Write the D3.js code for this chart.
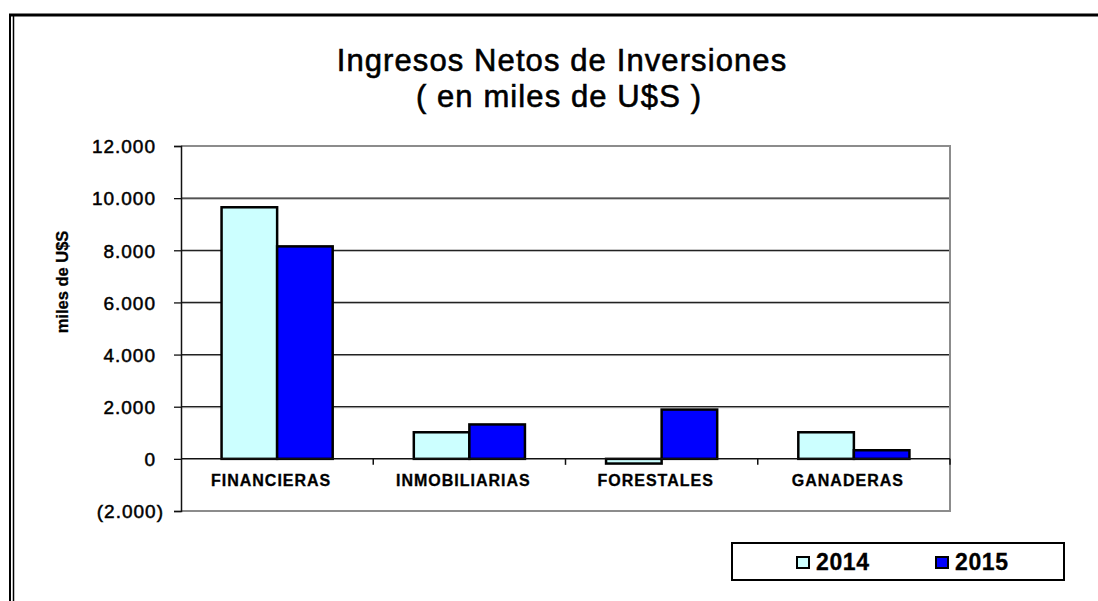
<!DOCTYPE html>
<html>
<head>
<meta charset="utf-8">
<script src="https://cdn.jsdelivr.net/npm/d3@7"></script>
<style>
  body { margin: 0; background: #fff; }
  svg { display: block; }
  text { font-family: Arial, 'Liberation Sans', sans-serif; fill: #000; }
</style>
</head>
<body>
<svg width="1098" height="601"></svg>
<script>
const categories = ['FINANCIERAS', 'INMOBILIARIAS', 'FORESTALES', 'GANADERAS'],
  series = ['2014', '2015'],
  values2014 = [9650, 1020, -180, 1020],
  values2015 = [8150, 1320, 1890, 330],
  yTicks = [-2000, 0, 2000, 4000, 6000, 8000, 10000, 12000],
  colors = ['#ccffff', '#0000ff']

const svg = d3.select('svg'),
  plot = { left: 181, right: 950, top: 146, bottom: 511 },
  locale = d3.formatLocale({ decimal: ',', thousands: '.', grouping: [3], currency: ['', ''] }),
  fmt = locale.format(',.0f'),
  y = d3
    .scaleLinear()
    .domain([-2000, 12000])
    .range([plot.bottom, plot.top]),
  x0 = d3
    .scaleBand()
    .domain(categories)
    .range([plot.left, plot.right]),
  x1 = d3
    .scaleBand()
    .domain(series)
    .range([0, x0.bandwidth()])
    .paddingOuter(0.73)

// outer frame
svg.append('line').attr('x1', 9).attr('x2', 1098).attr('y1', 15).attr('y2', 15)
  .attr('stroke', '#000').attr('stroke-width', 3)
svg.append('line').attr('x1', 10).attr('x2', 10).attr('y1', 14).attr('y2', 601)
  .attr('stroke', '#000').attr('stroke-width', 2)
svg.append('line').attr('x1', 13.5).attr('x2', 13.5).attr('y1', 16).attr('y2', 601)
  .attr('stroke', '#000').attr('stroke-width', 1.5)

// title
const title = svg.append('text')
  .attr('text-anchor', 'middle')
  .attr('font-size', 31)
  .attr('letter-spacing', 1.1)
  .attr('stroke', '#000')
  .attr('stroke-width', 0.6)
title.append('tspan').attr('x', 562).attr('y', 71).text('Ingresos Netos de Inversiones')
title.append('tspan').attr('x', 559).attr('y', 107).text('( en miles de U$S )')

// gridlines
svg.append('g')
  .selectAll('line')
  .data(yTicks.filter(d => d > 0 && d < 12000))
  .join('line')
  .attr('x1', plot.left).attr('x2', plot.right)
  .attr('y1', d => y(d) + 1).attr('y2', d => y(d) + 1)
  .attr('stroke', '#aaa').attr('stroke-width', 1)
svg.append('g')
  .selectAll('line')
  .data(yTicks.filter(d => d > 0 && d < 12000))
  .join('line')
  .attr('x1', plot.left).attr('x2', plot.right)
  .attr('y1', d => y(d)).attr('y2', d => y(d))
  .attr('stroke', '#222').attr('stroke-width', 1.2)

// plot border (gray top/right/bottom)
svg.append('path')
  .attr('d', `M${plot.left},${plot.top}H${plot.right}V${plot.bottom}H${plot.left}`)
  .attr('fill', 'none').attr('stroke', '#8c8c8c').attr('stroke-width', 2)

// bars
const groups = svg.append('g')
  .selectAll('g')
  .data(categories)
  .join('g')
  .attr('transform', d => `translate(${x0(d)},0)`)
groups.selectAll('rect')
  .data((d, i) => series.map((s, j) => ({ s, v: [values2014, values2015][j][i], c: colors[j] })))
  .join('rect')
  .attr('x', d => x1(d.s))
  .attr('width', x1.bandwidth())
  .attr('y', d => y(Math.max(0, d.v)))
  .attr('height', d => Math.abs(y(d.v) - y(0)))
  .attr('fill', d => d.c)
  .attr('stroke', '#000')
  .attr('stroke-width', 2.5)

// zero line + category ticks
svg.append('line')
  .attr('x1', plot.left).attr('x2', plot.right)
  .attr('y1', y(0)).attr('y2', y(0))
  .attr('stroke', '#111').attr('stroke-width', 1.5)
svg.append('g')
  .selectAll('line')
  .data(categories.slice(1).map(c => x0(c)).concat([plot.right]))
  .join('line')
  .attr('x1', d => d).attr('x2', d => d)
  .attr('y1', y(0)).attr('y2', y(0) + 6)
  .attr('stroke', '#111').attr('stroke-width', 1.5)

// y axis
const axisY = svg.append('g')
  .attr('transform', `translate(${plot.left},0)`)
  .call(d3.axisLeft(y).tickValues(yTicks).tickSize(7).tickPadding(0)
    .tickFormat(d => d < 0 ? `(${fmt(-d)})` : fmt(d)))
axisY.select('.domain').attr('stroke', '#111').attr('stroke-width', 1.5)
axisY.selectAll('.tick line').attr('stroke', '#111').attr('stroke-width', 1.3)
axisY.selectAll('.tick text')
  .attr('font-family', "Arial, 'Liberation Sans', sans-serif")
  .attr('font-size', 19)
  .attr('letter-spacing', 1)
  .attr('fill', '#000')
  .attr('stroke', '#000')
  .attr('stroke-width', 0.5)
  .attr('x', d => d < 0 ? -17 : -25)
  .attr('dy', '0.36em')

// category labels
svg.append('g')
  .selectAll('text')
  .data(categories)
  .join('text')
  .attr('x', d => x0(d) + x0.bandwidth() / 2 - 6)
  .attr('y', 486)
  .attr('text-anchor', 'middle')
  .attr('font-size', 16)
  .attr('font-weight', 'bold')
  .attr('letter-spacing', 1)
  .attr('stroke', '#000')
  .attr('stroke-width', 0.3)
  .text(d => d)

// y axis title
svg.append('text')
  .attr('transform', 'translate(68,282) rotate(-90)')
  .attr('text-anchor', 'middle')
  .attr('font-size', 16.5)
  .attr('font-weight', 'bold')
  .attr('stroke', '#000')
  .attr('stroke-width', 0.3)
  .text('miles de U$S')

// legend
const legend = svg.append('g')
legend.append('rect')
  .attr('x', 732).attr('y', 543).attr('width', 332).attr('height', 37)
  .attr('fill', '#fff').attr('stroke', '#000').attr('stroke-width', 2)
const legendX = [797, 936]
const items = legend.selectAll('g')
  .data(series)
  .join('g')
  .attr('transform', (d, i) => `translate(${legendX[i]},557)`)
items.append('rect')
  .attr('width', 12).attr('height', 11)
  .attr('fill', (d, i) => colors[i])
  .attr('stroke', '#000').attr('stroke-width', 2)
items.append('text')
  .attr('x', 19).attr('y', 12.5)
  .attr('font-size', 23)
  .attr('font-weight', 'bold')
  .attr('letter-spacing', 0.6)
  .attr('stroke', '#000')
  .attr('stroke-width', 0.3)
  .text(d => d)
</script>
</body>
</html>
